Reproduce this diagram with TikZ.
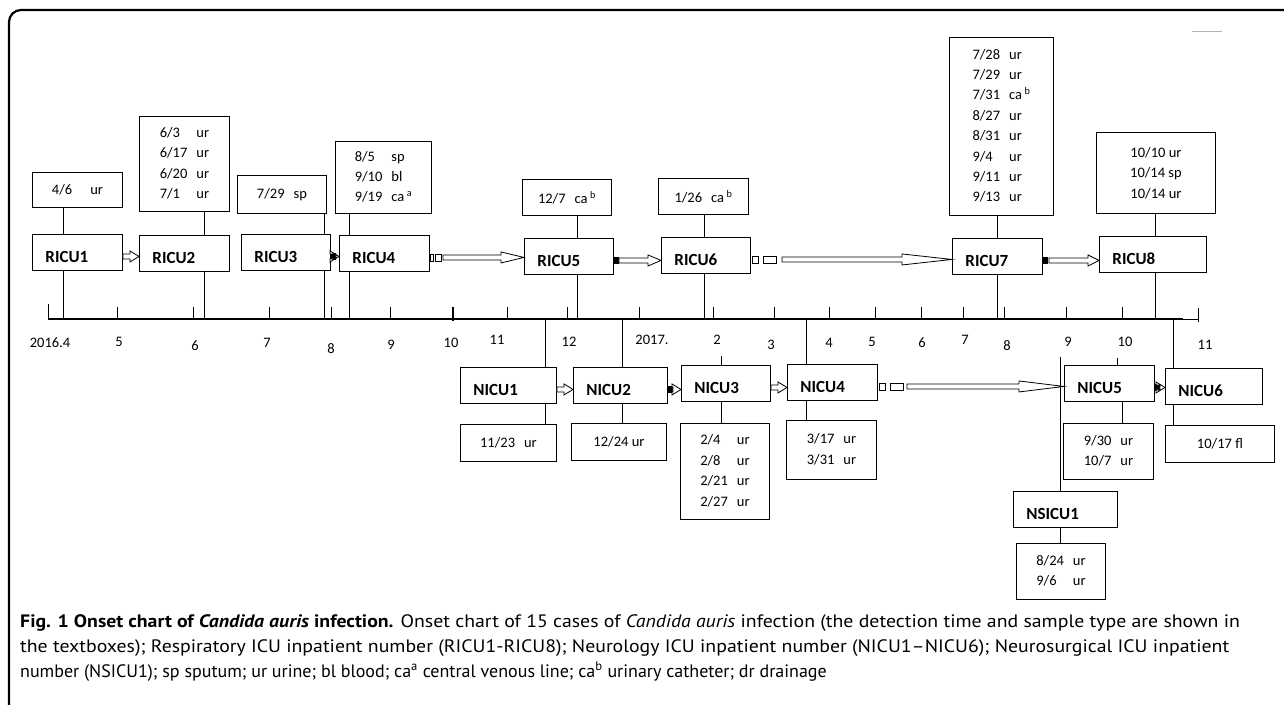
\documentclass[tikz,border=0pt]{standalone}
\usepackage{fontspec}
\setmainfont{Carlito}
\newfontfamily\capfont{PT Sans}
\usepackage{tikz}
\usetikzlibrary{calc}

\tikzset{
  icu/.style={draw, line width=0.9pt, anchor=north west, inner xsep=13pt, inner ysep=2pt,
    text width=64pt, minimum height=36pt, align=left, text height=21pt, text depth=0pt,
    font=\bfseries\fontsize{17}{20}\selectfont},
  tbox/.style={draw, line width=0.9pt, anchor=north west, inner sep=0pt, align=center,
    font=\fontsize{14.5}{20.4}\selectfont},
  conn/.style={line width=0.9pt},
  tick/.style={line width=1pt},
  mon/.style={font=\fontsize{14.5}{16}\selectfont, inner sep=0pt},
  blockarr/.style={draw, fill=white, line width=0.8pt, line join=miter},
  capt/.style={align=left, inner sep=0pt, font=\capfont\fontsize{18}{25}\selectfont}
}

% two columns: date and sample
\newcommand{\rows}[1]{\begin{tabular}{@{}l@{\hspace{9pt}}l@{}}#1\end{tabular}}
% hollow block arrow: [head length]{gap}{from}{to}
\newcommand{\blockarrow}[4][9pt]{%
  \draw[blockarr] let \p1=([xshift=#2,yshift=-4pt]#3.east), \p2=(#4.west) in
    (\x1,\y1+2.5pt) -- (\x2-#1,\y1+2.5pt) -- (\x2-#1,\y1+5.5pt) -- (\x2,\y1)
    -- (\x2-#1,\y1-5.5pt) -- (\x2-#1,\y1-2.5pt) -- (\x1,\y1-2.5pt) -- cycle;}
\newcommand{\tabstart}[1]{\fill ([yshift=-0.5pt]#1.east) rectangle ([xshift=5pt,yshift=-7.5pt]#1.east);}
\newcommand{\gapstart}[1]{\draw[line width=0.8pt]
  ([xshift=1pt,yshift=-0.5pt]#1.east) rectangle ([xshift=7pt,yshift=-7.5pt]#1.east)
  ([xshift=12pt,yshift=-0.5pt]#1.east) rectangle ([xshift=25pt,yshift=-7.5pt]#1.east);}

\begin{document}
\begin{tikzpicture}[x=1pt, y=-1pt]
  \useasboundingbox (0,0) rectangle (1284,704);
  \draw[line width=2.2pt, rounded corners=12pt] (9,720) -- (9,10) -- (1300,10);
  \draw[gray!60, line width=1pt] (1192,31) -- (1222,31);

  % time axis
  \coordinate (ax) at (0,319);
  \draw[line width=1.6pt] (48,319) -- (1183,319);
  \draw[line width=0.8pt] (1183,319) -- (1198,319);
  \draw[tick] (48,304) -- (48,319) (1198,308) -- (1198,322);
  \foreach \xx in {117,193,269,331,390,507,567,639,713,774,829,875,921,963,1004,1066,1122}
    \draw[tick] (\xx,307) -- (\xx,319);
  \draw[line width=1.8pt] (453,307) -- (453,321);
  \foreach \lab/\xx/\yy in {2016.4/50/343, 5/119/342, 6/195/346, 7/267/343, 8/331/349,
      9/391/345, 10/451/343, 11/497/340, 12/569/342, 2017./652/340, 2/717/340, 3/771/345,
      4/829/343, 5/872/342, 6/922/343, 7/965/340, 8/1007/346, 9/1068/342, 10/1125/342, 11/1205/345}
    \node[mon] (m\xx) at (\xx,\yy) {\lab};

  % respiratory ICU
  \node[icu] (r1) at (32,234) {RICU1};
  \node[icu] (r2) at (139,235) {RICU2};
  \node[icu, text width=63pt] (r3) at (241,234) {RICU3};
  \node[icu] (r4) at (339,235) {RICU4};
  \node[icu, text width=63pt] (r5) at (524,238) {RICU5};
  \node[icu, text width=63pt] (r6) at (661,237) {RICU6};
  \node[icu] (r7) at (952,238) {RICU7};
  \node[icu, text width=81pt] (r8) at (1099,236) {RICU8};

  \node[tbox, minimum width=90pt, minimum height=35pt] (t1) at (32,172) {4/6\hspace{18pt}ur};
  \node[tbox, minimum width=90pt, minimum height=95pt] (t2) at (139,116) {\rows{6/3&ur\\6/17&ur\\6/20&ur\\7/1&ur}};
  \node[tbox, minimum width=89pt, minimum height=38pt] (t3) at (237,175) {7/29\hspace{9pt}sp};
  \node[tbox, minimum width=96pt, minimum height=72pt] (t4) at (335,141) {\rows{8/5&sp\\9/10&bl\\9/19&ca\,\textsuperscript{a}}};
  \node[tbox, minimum width=89pt, minimum height=36pt] (t5) at (522,179) {12/7\hspace{9pt}ca\,\textsuperscript{b}};
  \node[tbox, minimum width=90pt, minimum height=36pt] (t6) at (658,178) {1/26\hspace{9pt}ca\,\textsuperscript{b}};
  \node[tbox, minimum width=104pt, minimum height=178pt] (t7) at (949,37) {\rows{7/28&ur\\7/29&ur\\7/31&ca\,\textsuperscript{b}\\8/27&ur\\8/31&ur\\9/4&ur\\9/11&ur\\9/13&ur}};
  \node[tbox, minimum width=119pt, minimum height=81pt] (t8) at (1096,132) {10/10 ur\\10/14 sp\\10/14 ur};

  \foreach \xx/\a/\b in {63/t1/r1, 204/t2/r2, 324/t3/r3, 349/t4/r4, 577/t5/r5, 704/t6/r6, 997/t7/r7, 1155/t8/r8}
    \draw[conn] (\a.south -| \xx,0) -- (\b.north -| \xx,0) (\b.south -| \xx,0) -- (\xx,0 |- ax);

  % neurology and neurosurgical ICU
  \node[icu, text width=70pt] (n1) at (460,367) {NICU1};
  \node[icu, text width=68pt] (n2) at (573,367) {NICU2};
  \node[icu, text width=63pt] (n3) at (681,365) {NICU3};
  \node[icu] (n4) at (787,364) {NICU4};
  \node[icu] (n5) at (1064,365) {NICU5};
  \node[icu, text width=71pt] (n6) at (1165,368) {NICU6};
  \node[icu, text width=78pt] (ns1) at (1013,491) {NSICU1};

  \node[tbox, minimum width=96pt, minimum height=37pt] (u1) at (460,424) {11/23\hspace{9pt}ur};
  \node[tbox, minimum width=95pt, minimum height=37pt] (u2) at (571,423) {12/24 ur};
  \node[tbox, minimum width=89pt, minimum height=96pt] (u3) at (680,423) {\rows{2/4&ur\\2/8&ur\\2/21&ur\\2/27&ur}};
  \node[tbox, minimum width=90pt, minimum height=59pt] (u4) at (786,420) {\rows{3/17&ur\\3/31&ur}};
  \node[tbox, minimum width=90pt, minimum height=56pt] (u5) at (1063,423) {\rows{9/30&ur\\10/7&ur}};
  \node[tbox, minimum width=109pt, minimum height=37pt] (u6) at (1165,425) {10/17 fl};
  \node[tbox, minimum width=89pt, minimum height=56pt] (us1) at (1016,543) {\rows{8/24&ur\\9/6&ur}};

  \foreach \xx/\a/\b in {545/n1/u1, 622/n2/u2, 806/n4/u4, 1173/n6/u6}
    \draw[conn] (\xx,0 |- ax) -- (\a.north -| \xx,0) (\a.south -| \xx,0) -- (\b.north -| \xx,0);
  \coordinate (s3) at (721,356);
  \coordinate (s5) at (1117,358);
  \coordinate (s6) at (1060,357);
  \draw[conn] (s3) -- (n3.north -| s3) (n3.south -| s3) -- (u3.north -| s3);
  \draw[conn] (s5) -- (n5.north -| s5) (n5.south -| 1122,0) -- (u5.north -| 1122,0);
  \draw[conn] (s6) -- (ns1.north -| s6) (ns1.south -| s6) -- (us1.north -| s6);

  % transfers
  \blockarrow{0pt}{r1}{r2}
  \tabstart{r3} \blockarrow{5pt}{r3}{r4}
  \draw[line width=0.8pt] ([yshift=-0.5pt]r4.east) rectangle ([xshift=3pt,yshift=-7.5pt]r4.east)
    ([xshift=5pt,yshift=-0.5pt]r4.east) rectangle ([xshift=11pt,yshift=-7.5pt]r4.east);
  \blockarrow[23pt]{13pt}{r4}{r5}
  \tabstart{r5} \blockarrow[13pt]{5pt}{r5}{r6}
  \gapstart{r6} \blockarrow[50pt]{31pt}{r6}{r7}
  \tabstart{r7} \blockarrow[11pt]{6pt}{r7}{r8}
  \blockarrow{0pt}{n1}{n2}
  \tabstart{n2} \blockarrow{5pt}{n2}{n3}
  \blockarrow{0pt}{n3}{n4}
  \gapstart{n4} \blockarrow[45pt]{29pt}{n4}{n5}
  \tabstart{n5} \blockarrow{5pt}{n5}{n6}

  % caption
  \node[capt, anchor=base west] (cap) at (20,677) {\scalebox{1.1}[1]{\textbf{Fig. 1 Onset chart of \textit{Candida auris} infection.} Onset chart of 15 cases of \textit{Candida auris} infection (the detection time and sample type are shown in}\\
    \scalebox{1.1}[1]{the textboxes); Respiratory ICU inpatient number (RICU1-RICU8); Neurology ICU inpatient number (NICU1\textendash NICU6); Neurosurgical ICU inpatient}\\
    number (NSICU1); sp sputum; ur urine; bl blood; ca\textsuperscript{a} central venous line; ca\textsuperscript{b} urinary catheter; dr drainage};
\end{tikzpicture}
\end{document}
